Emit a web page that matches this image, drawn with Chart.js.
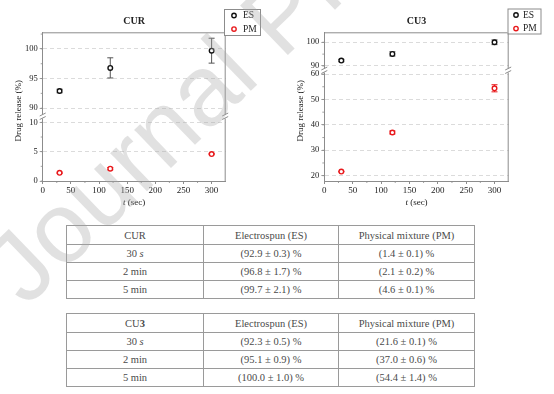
<!DOCTYPE html>
<html lang="en">
<head>
<meta charset="UTF-8">
<title>Drug release of CUR and CU3</title>
<script src="https://cdn.jsdelivr.net/npm/chart.js"></script>
<style>
  body { margin: 0; background: #fff; font-family: 'Liberation Serif', 'Times New Roman', serif; }
  #page { position: relative; width: 554px; height: 394px; overflow: hidden; }
  .panel { position: absolute; top: 0; width: 277px; height: 215px; }
  table.res { position: absolute; left: 66px; width: 408px; border-collapse: collapse; table-layout: fixed;
              font-size: 10.5px; color: #4a4a4a; }
  table.res td { border: 1px solid #9a9a9a; text-align: center; padding: 0; }
  table.res tr { height: 18px; }
  #watermark { position: absolute; left: 0; top: 0; pointer-events: none; }
</style>
</head>
<body>
<div id="page">
  <div class="panel" style="left:0"><canvas id="curChart"></canvas></div>
  <div class="panel" style="left:277px"><canvas id="cu3Chart"></canvas></div>
  <table class="res" id="curTable" style="top:225px"></table>
  <table class="res" id="cu3Table" style="top:313px"></table>
  <svg id="watermark" width="554" height="394">
    <text x="26" y="308" transform="rotate(-44 26 308)" font-family="'Liberation Sans', Arial, sans-serif"
          font-size="100" fill="#a8a8a8" fill-opacity="0.34">Journal Pre-proof</text>
  </svg>
</div>

<script>
  // release times (sec) and table row labels
  const times = [30, 120, 300];
  const timeLabels = ['30 <i>s</i>', '2 min', '5 min'];
  const seriesNames = ['ES', 'PM'];
  const columnHeads = ['Electrospun (ES)', 'Physical mixture (PM)'];

  // CUR
  const curEs = [92.9, 96.8, 99.7];
  const curEsErr = [0.3, 1.7, 2.1];
  const curPm = [1.4, 2.1, 4.6];
  const curPmErr = [0.1, 0.2, 0.1];

  // CU3
  const cu3Es = [92.3, 95.1, 100.0];
  const cu3EsErr = [0.5, 0.9, 1.0];
  const cu3Pm = [21.6, 37.0, 54.4];
  const cu3PmErr = [0.1, 0.6, 1.4];

  // tick labels
  const xTicks = [0, 50, 100, 150, 200, 250, 300];
  const curTopTicks = [90, 95, 100];
  const curBottomTicks = [0, 5, 10];
  const cu3TopTicks = [90, 100];
  const cu3BottomTicks = [20, 30, 40, 50, 60];

  const SERIF = "'Liberation Serif', 'Times New Roman', serif";
  const axisGray = '#8c8c8c';
  const esColor = '#111111';
  const pmColor = '#e8191c';

  function yScale(min, max, ticks, weight, width) {
    return {
      type: 'linear', position: 'left', stack: 'left', stackWeight: weight,
      min: min, max: max,
      afterBuildTicks: s => { s.ticks = ticks.map(v => ({ value: v })); },
      afterFit: s => { s.width = width; },
      ticks: { font: { family: SERIF, size: 8.5 }, color: '#222', padding: 2, autoSkip: false },
      grid: { color: '#d2d2d2', lineWidth: 0.8, tickColor: axisGray, tickLength: 3 },
      border: { color: axisGray, width: 1, dash: [4, 3] }
    };
  }

  function points(values) {
    return times.map((t, i) => ({ x: t, y: values[i] }));
  }

  function seg(ctx, x1, y1, x2, y2) {
    ctx.beginPath(); ctx.moveTo(x1, y1); ctx.lineTo(x2, y2); ctx.stroke();
  }

  // error bars, frame, axis break, minor ticks, axis titles and boxed legend
  const decor = {
    id: 'decor',
    beforeDatasetsDraw(chart) {
      const ctx = chart.ctx;
      ctx.save();
      ctx.lineWidth = 1;
      chart.data.datasets.forEach((ds, i) => {
        const meta = chart.getDatasetMeta(i);
        const ys = chart.scales[ds.yAxisID];
        ctx.strokeStyle = ds.errorColor;
        meta.data.forEach((pt, j) => {
          const v = ds.data[j].y, e = ds.errors[j];
          const lo = ys.getPixelForValue(v - e), hi = ys.getPixelForValue(v + e);
          seg(ctx, pt.x, lo, pt.x, hi);
          seg(ctx, pt.x - 3, lo, pt.x + 3, lo);
          seg(ctx, pt.x - 3, hi, pt.x + 3, hi);
        });
      });
      ctx.restore();
    },
    afterDraw(chart, args, opts) {
      const ctx = chart.ctx;
      const { left, right, top, bottom } = chart.chartArea;
      const sx = chart.scales.x, up = chart.scales.yTop, low = chart.scales.yBottom;
      ctx.save();
      ctx.strokeStyle = axisGray;
      ctx.lineWidth = 1;
      // top and right frame
      seg(ctx, left, top + 0.5, right, top + 0.5);
      seg(ctx, right - 0.5, top, right - 0.5, bottom);

      // minor ticks
      ctx.lineWidth = 0.8;
      for (let v = 25; v < sx.max; v += 50) {
        const px = sx.getPixelForValue(v);
        seg(ctx, px, bottom, px, bottom + 2);
      }
      [[up, opts.topMinor], [low, opts.bottomMinor]].forEach(([s, step]) => {
        for (let v = Math.ceil(s.min / step) * step; v <= s.max; v += step) {
          const py = s.getPixelForValue(v);
          seg(ctx, left, py, left - 2, py);
        }
      });

      // axis break marks
      const yb = Math.min(up.bottom, low.bottom);
      [left, right - 0.5].forEach(x => {
        ctx.fillStyle = '#fff';
        ctx.fillRect(x - 2, yb - 2, 4, 4);
        ctx.strokeStyle = axisGray;
        ctx.lineWidth = 1;
        seg(ctx, x - 3, yb - 0.5, x + 3, yb - 3.5);
        seg(ctx, x - 3, yb + 3, x + 3, yb);
      });

      // axis titles
      ctx.fillStyle = '#222';
      ctx.font = `9px ${SERIF}`;
      ctx.textAlign = 'center';
      ctx.textBaseline = 'middle';
      ctx.save();
      ctx.translate(opts.yTitleX, (top + bottom) / 2 + 4);
      ctx.rotate(-Math.PI / 2);
      ctx.fillText('Drug release (%)', 0, 0);
      ctx.restore();

      const italic = `italic 9px ${SERIF}`, plain = `9px ${SERIF}`;
      ctx.font = italic; const wt = ctx.measureText('t').width;
      ctx.font = plain; const wr = ctx.measureText(' (sec)').width;
      let tx = (left + right) / 2 - (wt + wr) / 2;
      ctx.textAlign = 'left';
      ctx.font = italic; ctx.fillText('t', tx, 203);
      ctx.font = plain; ctx.fillText(' (sec)', tx + wt, 203);

      // legend box
      const lg = opts.legend;
      ctx.fillStyle = '#fff';
      ctx.fillRect(lg.x, lg.y, lg.w, lg.h);
      ctx.strokeStyle = axisGray;
      ctx.strokeRect(lg.x + 0.5, lg.y + 0.5, lg.w, lg.h);
      ctx.font = `9.5px ${SERIF}`;
      chart.data.datasets.forEach((ds, i) => {
        const cy = lg.y + 6.5 + i * 13.6;
        ctx.beginPath();
        ctx.arc(lg.x + lg.markerDx, cy, 2.2, 0, Math.PI * 2);
        ctx.fillStyle = '#fff'; ctx.fill();
        ctx.lineWidth = 1.4; ctx.strokeStyle = ds.borderColor; ctx.stroke();
        ctx.fillStyle = '#222';
        ctx.fillText(ds.label, lg.x + lg.textDx, cy);
      });
      ctx.restore();
    }
  };

  function makeChart(id, cfg) {
    return new Chart(document.getElementById(id), {
      type: 'scatter',
      data: {
        datasets: [
          { label: seriesNames[0], data: points(cfg.es), errors: cfg.esErr, yAxisID: 'yTop',
            borderColor: esColor, backgroundColor: '#fff', errorColor: '#555',
            pointRadius: 2.3, pointBorderWidth: 1.4, pointHoverRadius: 2.3 },
          { label: seriesNames[1], data: points(cfg.pm), errors: cfg.pmErr, yAxisID: 'yBottom',
            borderColor: pmColor, backgroundColor: '#fff', errorColor: pmColor,
            pointRadius: 2.3, pointBorderWidth: 1.4, pointHoverRadius: 2.3 }
        ]
      },
      options: {
        responsive: true,
        maintainAspectRatio: false,
        animation: false,
        layout: { padding: { left: 0, right: cfg.rightPad, top: 0, bottom: 0 } },
        scales: {
          x: {
            type: 'linear', position: 'bottom', min: 0, max: 325,
            afterBuildTicks: s => { s.ticks = xTicks.map(v => ({ value: v })); },
            afterFit: s => { s.height = 34; },
            ticks: { font: { family: SERIF, size: 9 }, color: '#222', padding: 1, maxRotation: 0, autoSkip: false },
            grid: { drawOnChartArea: false, tickColor: axisGray, tickLength: 3 },
            border: { color: axisGray, width: 1 }
          },
          yBottom: yScale(cfg.bottomRange[0], cfg.bottomRange[1], cfg.bottomTicks, cfg.bottomWeight, cfg.axisWidth),
          yTop: yScale(cfg.topRange[0], cfg.topRange[1], cfg.topTicks, cfg.topWeight, cfg.axisWidth)
        },
        plugins: {
          legend: { display: false },
          tooltip: { enabled: false },
          title: {
            display: true, text: cfg.title, fullSize: false, color: '#222',
            font: { family: SERIF, size: 10, weight: 'bold', lineHeight: 1.2 },
            padding: { top: 15.7, bottom: 4.6 }
          },
          decor: cfg.decor
        }
      },
      plugins: [decor]
    });
  }

  makeChart('curChart', {
    title: 'CUR', es: curEs, esErr: curEsErr, pm: curPm, pmErr: curPmErr,
    topRange: [88.6, 102.8], topTicks: curTopTicks, topWeight: 84.2,
    bottomRange: [0, 11], bottomTicks: curBottomTicks, bottomWeight: 64.5,
    axisWidth: 42.7, rightPad: 51.3,
    decor: { yTitleX: 19, topMinor: 2.5, bottomMinor: 2.5,
             legend: { x: 224, y: 9, w: 36, h: 26, markerDx: 10, textDx: 19 } }
  });

  makeChart('cu3Chart', {
    title: 'CU3', es: cu3Es, esErr: cu3EsErr, pm: cu3Pm, pmErr: cu3PmErr,
    topRange: [88.1, 104.2], topTicks: cu3TopTicks, topWeight: 38.2,
    bottomRange: [17.9, 61.4], bottomTicks: cu3BottomTicks, bottomWeight: 110.5,
    axisWidth: 47.3, rightPad: 45.3,
    decor: { yTitleX: 24, topMinor: 5, bottomMinor: 5,
             legend: { x: 230.5, y: 8.5, w: 33, h: 25, markerDx: 8.5, textDx: 15.5 } }
  });

  // summary tables
  const fmt = (v, e) => `(${v.toFixed(1)} ± ${e.toFixed(1)}) %`;
  function fillTable(id, head, es, esErr, pm, pmErr) {
    const rows = ['<colgroup><col style="width:137px"><col style="width:135px"><col style="width:136px"></colgroup>',
      `<tr style="height:19px"><td>${head}</td><td>${columnHeads[0]}</td><td>${columnHeads[1]}</td></tr>`];
    timeLabels.forEach((t, i) => {
      rows.push(`<tr><td>${t}</td><td>${fmt(es[i], esErr[i])}</td><td>${fmt(pm[i], pmErr[i])}</td></tr>`);
    });
    document.getElementById(id).innerHTML = rows.join('');
  }
  fillTable('curTable', 'CUR', curEs, curEsErr, curPm, curPmErr);
  fillTable('cu3Table', 'CU<b>3</b>', cu3Es, cu3EsErr, cu3Pm, cu3PmErr);
</script>
</body>
</html>
